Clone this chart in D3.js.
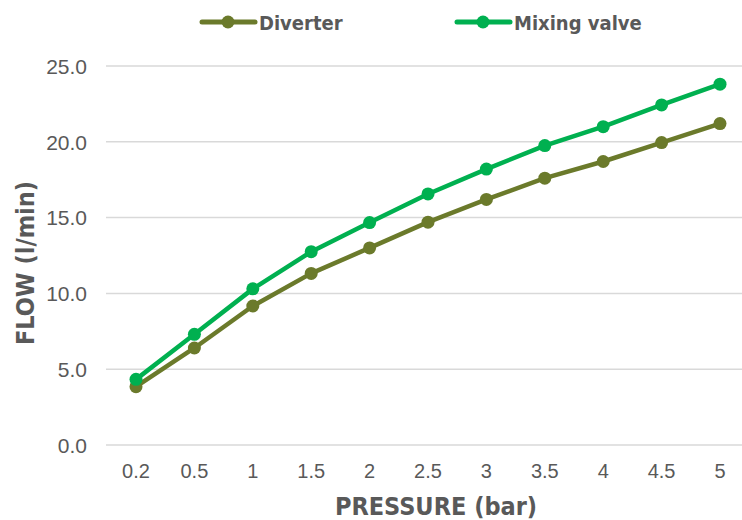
<!DOCTYPE html>
<html>
<head>
<meta charset="utf-8">
<script src="https://cdn.jsdelivr.net/npm/d3@7"></script>
<style>
  body { margin: 0; background: #fff; }
  svg { display: block; font-family: 'DejaVu Sans Condensed', 'DejaVu Sans', sans-serif; font-stretch: condensed; }
</style>
</head>
<body>
<div id="chart"></div>
<script>
// Chart data
const pressures = ['0.2', '0.5', '1', '1.5', '2', '2.5', '3', '3.5', '4', '4.5', '5'];
const diverter = [3.85, 6.4, 9.17, 11.32, 13.0, 14.7, 16.2, 17.6, 18.7, 19.95, 21.2];
const mixingValve = [4.33, 7.3, 10.3, 12.75, 14.67, 16.56, 18.2, 19.75, 21.0, 22.43, 23.8];
const yTicks = [0, 5, 10, 15, 20, 25];

const seriesNames = ['Diverter', 'Mixing valve'];
const seriesColors = ['#6b7a2b', '#00b050'];

const width = 742;
const height = 520;
const textColor = '#595959';

const svg = d3.select('#chart')
  .append('svg')
  .attr('width', width)
  .attr('height', height);

// Scales
const x = d3.scaleBand()
  .domain(pressures)
  .range([106.8, 749.2]);

const y = d3.scaleLinear()
  .domain([0, 25])
  .range([445, 66]);

// Gridlines
svg.append('g')
  .selectAll('line')
  .data(yTicks)
  .enter()
  .append('line')
  .attr('x1', 106)
  .attr('x2', width)
  .attr('y1', (d) => y(d))
  .attr('y2', (d) => y(d))
  .attr('stroke', '#d9d9d9')
  .attr('stroke-width', 1.5);

// Y axis labels
const yAxis = svg.append('g')
  .attr('transform', 'translate(87,0)')
  .call(d3.axisLeft(y).tickValues(yTicks).tickFormat(d3.format('.1f')).tickSize(0).tickPadding(0));
yAxis.select('.domain').remove();
yAxis.selectAll('text')
  .attr('fill', textColor)
  .attr('dy', '0.35em')
  .style('font-size', '21px');

// X axis labels
const xAxis = svg.append('g')
  .attr('transform', 'translate(0,478)')
  .call(d3.axisBottom(x).tickSize(0).tickPadding(0));
xAxis.select('.domain').remove();
xAxis.selectAll('text')
  .attr('fill', textColor)
  .attr('dy', 0)
  .style('font-size', '20px');

// Axis titles
svg.append('text')
  .attr('x', 436)
  .attr('y', 515)
  .attr('text-anchor', 'middle')
  .attr('fill', textColor)
  .style('font-size', '25px')
  .style('font-weight', 'bold')
  .text('PRESSURE (bar)');

svg.append('text')
  .attr('transform', 'translate(34,263) rotate(-90)')
  .attr('text-anchor', 'middle')
  .attr('fill', textColor)
  .style('font-size', '25px')
  .style('font-weight', 'bold')
  .text('FLOW (l/min)');

// Lines and markers
const line = d3.line()
  .x((d, i) => x(pressures[i]) + x.bandwidth() / 2)
  .y((d) => y(d));

[diverter, mixingValve].forEach((values, index) => {
  svg.append('path')
    .datum(values)
    .attr('fill', 'none')
    .attr('stroke', seriesColors[index])
    .attr('stroke-width', 4.5)
    .attr('stroke-linejoin', 'round')
    .attr('d', line);

  svg.append('g')
    .selectAll('circle')
    .data(values)
    .enter()
    .append('circle')
    .attr('cx', (d, i) => x(pressures[i]) + x.bandwidth() / 2)
    .attr('cy', (d) => y(d))
    .attr('r', 6.5)
    .attr('fill', seriesColors[index]);
});

// Legend
const legendX = [200, 455];
seriesNames.forEach((name, i) => {
  const g = svg.append('g').attr('transform', `translate(${legendX[i]},22)`);
  g.append('line')
    .attr('x1', 2)
    .attr('x2', 55)
    .attr('stroke', seriesColors[i])
    .attr('stroke-width', 5)
    .attr('stroke-linecap', 'round');
  g.append('circle')
    .attr('cx', 28)
    .attr('r', 6.5)
    .attr('fill', seriesColors[i]);
  g.append('text')
    .attr('x', 59)
    .attr('y', 8)
    .attr('fill', textColor)
    .style('font-size', '20px')
    .style('font-weight', 'bold')
    .text(name);
});
</script>
</body>
</html>
